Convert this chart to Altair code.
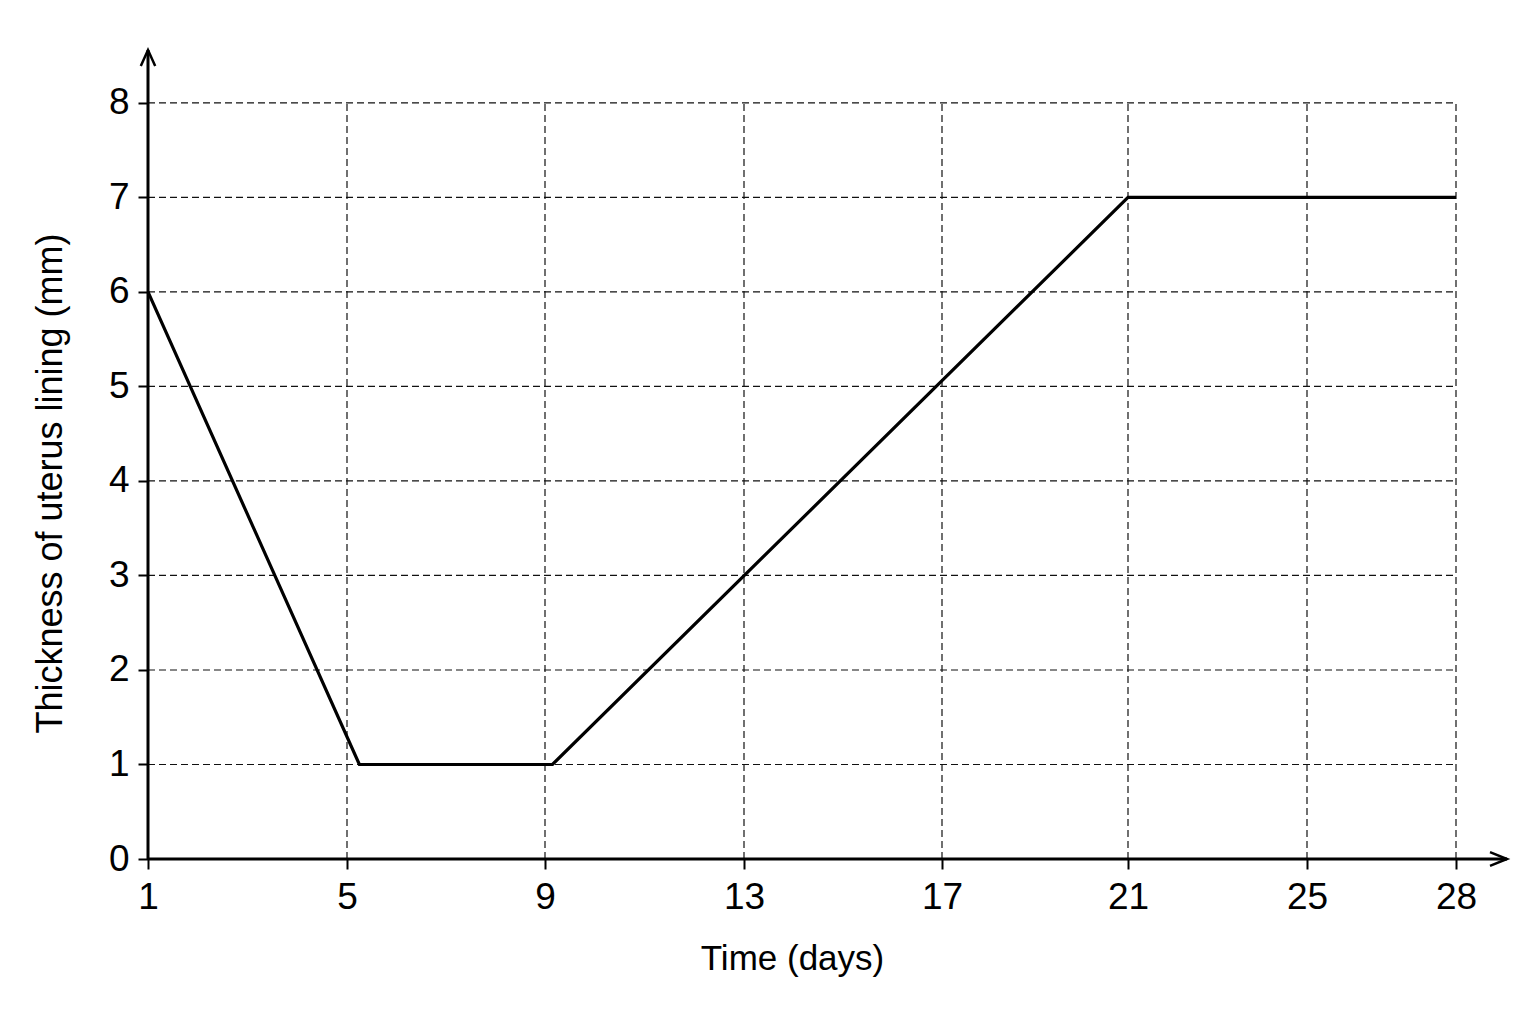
import altair as alt
import pandas as pd

# data values
days = [1, 5.25, 9.15, 21, 28]
thickness = [6, 1, 1, 7, 7]

x_ticks = [1, 5, 9, 13, 17, 21, 25, 28]
y_ticks = [0, 1, 2, 3, 4, 5, 6, 7, 8]

x_start, x_grid_end, x_axis_end = 1, 28, 29
y_start, y_grid_end, y_axis_end = 0, 8, 8.56

FONT = "Liberation Sans"
W, H = 1359, 809

x_scale = alt.Scale(domain=[1, 5, 9, 13, 17, 21, 25, 28, 29],
                    range=[0, 199, 397, 596, 794, 980, 1159, 1308, 1359])
y_scale = alt.Scale(domain=[y_start, y_axis_end], nice=False, zero=False)

line_df = pd.DataFrame({"x": days, "y": thickness})
hgrid_df = pd.DataFrame({"y": [v for v in y_ticks if v != 0],
                         "x": x_start, "x2": x_grid_end})
vgrid_df = pd.DataFrame({"x": [v for v in x_ticks if v != 1],
                         "y": y_start, "y2": y_grid_end})
xaxis_df = pd.DataFrame({"x": [x_start], "x2": [x_axis_end], "y": [y_start]})
yaxis_df = pd.DataFrame({"x": [x_start], "y": [y_start], "y2": [y_axis_end]})
xarrow_df = pd.DataFrame({"x": [x_axis_end], "y": [y_start]})
yarrow_df = pd.DataFrame({"x": [x_start], "y": [y_axis_end]})

x_axis = alt.Axis(values=x_ticks, domain=False, grid=False, ticks=True,
                  tickSize=10, tickWidth=2, tickColor="black",
                  labelFont=FONT, labelFontSize=37, labelColor="black",
                  labelPadding=10, labelFlush=False,
                  title="Time (days)", titleFont=FONT, titleFontSize=35,
                  titleFontWeight="normal", titleColor="black",
                  titleX=644, titleY=99, titleBaseline="middle", titleAlign="center")
y_axis = alt.Axis(values=y_ticks, domain=False, grid=False, ticks=True,
                  tickSize=10, tickWidth=2, tickColor="black",
                  labelFont=FONT, labelFontSize=37, labelColor="black",
                  labelPadding=9, labelFlush=False,
                  title="Thickness of uterus lining (mm)", titleFont=FONT,
                  titleFontSize=36, titleFontWeight="normal", titleColor="black",
                  titleX=-98, titleY=433, titleAngle=270,
                  titleBaseline="middle", titleAlign="center")

X = lambda: alt.X("x:Q", scale=x_scale, axis=x_axis)
Y = lambda: alt.Y("y:Q", scale=y_scale, axis=y_axis)

grid_color = "#111111"
dash = [7, 4]

hgrid = alt.Chart(hgrid_df).mark_rule(color=grid_color, strokeWidth=1.2, strokeDash=dash).encode(
    x=X(), x2="x2:Q", y=Y(),
)
vgrid = alt.Chart(vgrid_df).mark_rule(color=grid_color, strokeWidth=1.2, strokeDash=dash).encode(
    x=X(), y=Y(), y2="y2:Q",
)
xaxis_line = alt.Chart(xaxis_df).mark_rule(color="black", strokeWidth=3).encode(
    x=X(), x2="x2:Q", y=Y(),
)
yaxis_line = alt.Chart(yaxis_df).mark_rule(color="black", strokeWidth=3).encode(
    x=X(), y=Y(), y2="y2:Q",
)
data_line = alt.Chart(line_df).mark_line(color="black", strokeWidth=3.2, strokeJoin="miter").encode(
    x=X(), y=Y(),
)
xarrow = alt.Chart(xarrow_df).mark_point(
    shape="M -1 -0.4 L 0 0 L -1 0.4", size=1156, filled=False,
    stroke="black", strokeWidth=2.5, opacity=1).encode(x=X(), y=Y())
yarrow = alt.Chart(yarrow_df).mark_point(
    shape="M -0.45 1 L 0 0 L 0.45 1", size=1024, filled=False,
    stroke="black", strokeWidth=2.5, opacity=1).encode(x=X(), y=Y())

chart = alt.layer(hgrid, vgrid, xaxis_line, yaxis_line, data_line, xarrow, yarrow).properties(
    width=W, height=H,
    autosize=alt.AutoSizeParams(type="none"),
    padding={"left": 140, "top": 42, "right": 20, "bottom": 140},
    background="white",
).configure_view(stroke=None)

chart.save("out.html", embed_options={"renderer": "svg", "actions": False})
